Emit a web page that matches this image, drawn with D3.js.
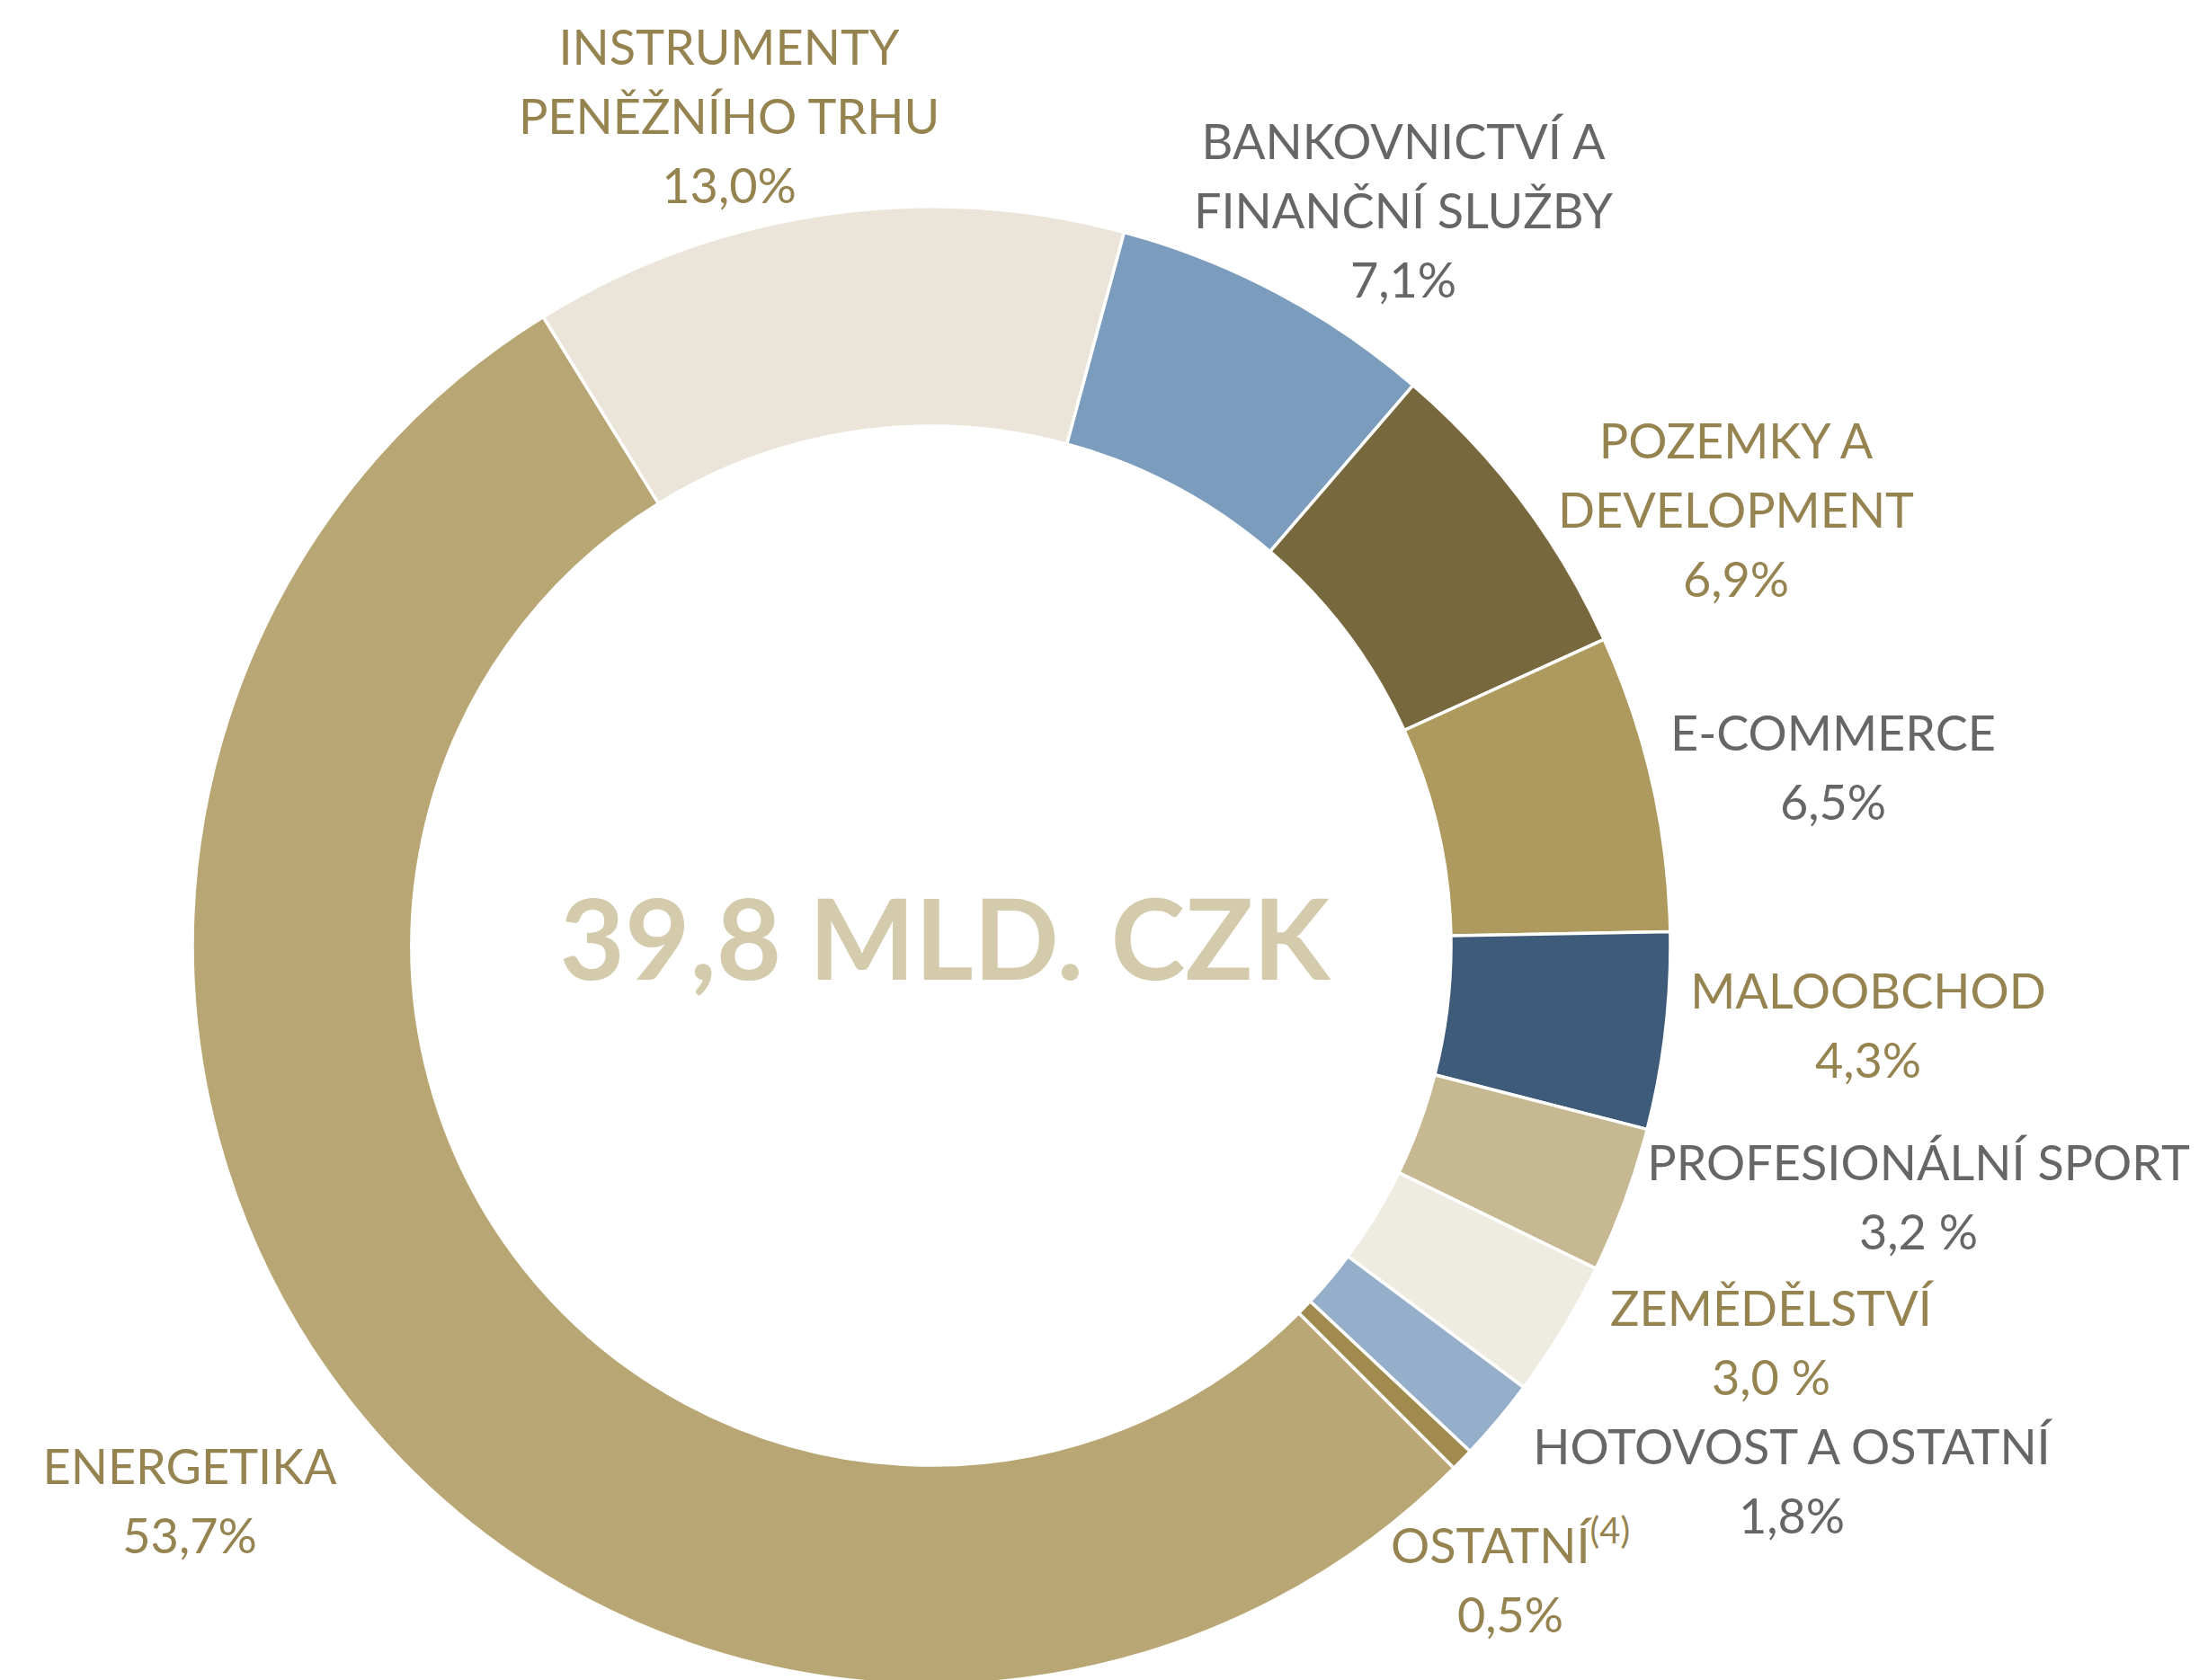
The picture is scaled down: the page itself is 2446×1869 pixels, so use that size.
<!DOCTYPE html>
<html>
<head>
<meta charset="utf-8">
<script src="https://cdn.jsdelivr.net/npm/d3@7"></script>
<style>
  html, body { margin: 0; padding: 0; background: #fff; }
  svg text { font-family: Lato, "Open Sans", sans-serif; }
</style>
</head>
<body>
<div id="chart"></div>
<script>
let width = 2446
let height = 1869

// -- data (order as in the source sheet, clockwise from bottom right)
let categories = ['ENERGETIKA', 'INSTRUMENTY PENĚŽNÍHO TRHU', 'BANKOVNICTVÍ A FINANČNÍ SLUŽBY',
  'POZEMKY A DEVELOPMENT', 'E-COMMERCE', 'MALOOBCHOD', 'PROFESIONÁLNÍ SPORT',
  'ZEMĚDĚLSTVÍ', 'HOTOVOST A OSTATNÍ', 'OSTATNÍ']
let values = [53.7, 13.0, 7.1, 6.9, 6.5, 4.3, 3.2, 3.0, 1.8, 0.5]
let valueLabels = ['53,7%', '13,0%', '7,1%', '6,9%', '6,5%', '4,3%', '3,2 %', '3,0 %', '1,8%', '0,5%']
let nameLines = [
  ['ENERGETIKA'],
  ['INSTRUMENTY', 'PENĚŽNÍHO TRHU'],
  ['BANKOVNICTVÍ A', 'FINANČNÍ SLUŽBY'],
  ['POZEMKY A', 'DEVELOPMENT'],
  ['E-COMMERCE'],
  ['MALOOBCHOD'],
  ['PROFESIONÁLNÍ SPORT'],
  ['ZEMĚDĚLSTVÍ'],
  ['HOTOVOST A OSTATNÍ'],
  ['OSTATNÍ']
]
let footnotes = ['', '', '', '', '', '', '', '', '', '(4)']
let totalLabel = '39,8 MLD. CZK'

// -- styling / layout
let sliceColors = ['#b8a774', '#eae5d8', '#7b9cbc', '#77683d', '#ae9a5f',
  '#3f5b7a', '#c6b891', '#eeebe0', '#95afca', '#a08a4e']
let gold = '#958350'
let gray = '#666666'
let labelColors = [gold, gold, gray, gold, gray, gold, gray, gold, gray, gold]
// label anchor: centre x, first baseline y (placed by hand like the original)
let labelPos = [[211, 1651], [811, 72], [1561, 177], [1931, 510], [2039, 835],
  [2078, 1122], [2134, 1313], [1970, 1475], [1993, 1629], [1680, 1739]]
let lineGap = 77
let cx = 1036, cy = 1052
let outerR = 822, innerR = 578

let svg = d3.select('#chart').append('svg')
  .attr('width', width)
  .attr('height', height)

let color = d3.scaleOrdinal().domain(categories).range(sliceColors)

let pie = d3.pie()
  .sort(null)
  .value((d) => d)
  .startAngle(Math.PI * 0.75)
  .endAngle(Math.PI * 0.75 + 2 * Math.PI)

let arc = d3.arc().innerRadius(innerR).outerRadius(outerR)

let g = svg.append('g').attr('transform', `translate(${cx}, ${cy})`)

g.selectAll('path')
  .data(pie(values))
  .enter()
  .append('path')
  .attr('d', arc)
  .style('fill', (d, i) => color(categories[i]))
  .style('stroke', '#fff')
  .style('stroke-width', 3.5)

// centre total
svg.append('text')
  .attr('x', cx + 15)
  .attr('y', cy + 38)
  .attr('text-anchor', 'middle')
  .style('font-size', '125px')
  .style('font-weight', 700)
  .style('fill', '#d4cbad')
  .text(totalLabel)

// slice labels
categories.forEach((c, i) => {
  let t = svg.append('text')
    .attr('text-anchor', 'middle')
    .style('font-size', '54px')
    .style('fill', labelColors[i])
  let [x, y] = labelPos[i]
  let lines = nameLines[i].concat([valueLabels[i]])
  lines.forEach((line, j) => {
    t.append('tspan').attr('x', x).attr('y', y + j * lineGap).text(line)
    if (j == nameLines[i].length - 1 && footnotes[i]) {
      t.append('tspan')
        .attr('dy', -22)
        .style('font-size', '40px')
        .text(footnotes[i])
    }
  })
})
</script>
</body>
</html>
